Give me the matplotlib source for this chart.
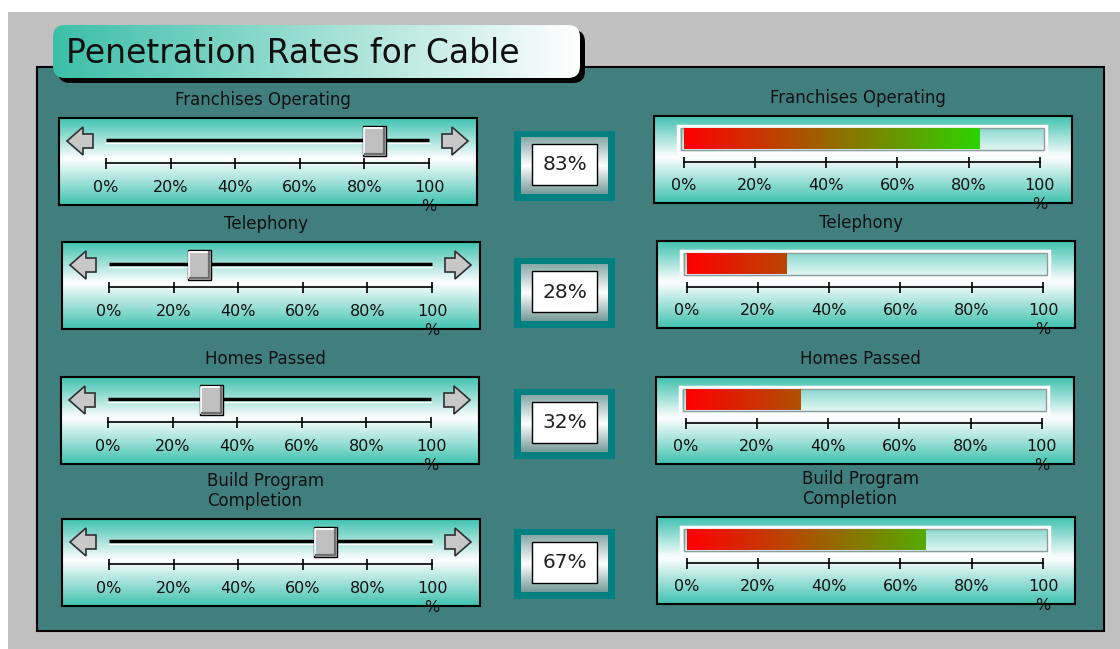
import matplotlib.pyplot as plt
import numpy as np
from matplotlib.patches import Rectangle, FancyBboxPatch, Polygon
from matplotlib.colors import LinearSegmentedColormap

# penetration rates, one row per measure
title = "Penetration Rates for Cable"
measures = ["Franchises Operating", "Telephony", "Homes Passed", "Build Program\nCompletion"]
rates = [83, 28, 32, 67]
tick_vals = [0, 20, 40, 60, 80, 100]
tick_labels = ["0%", "20%", "40%", "60%", "80%", "100\n%"]

W, H = 1120, 649
fig = plt.figure(figsize=(W / 100, H / 100), dpi=100)
fig.patch.set_facecolor("white")

# background axes in pixel units
bg = fig.add_axes([0, 0, 1, 1])
bg.set_xlim(0, W)
bg.set_ylim(H, 0)
bg.axis("off")

panel_cmap = LinearSegmentedColormap.from_list(
    "panel", [(0, "#3fc2b0"), (0.47, "#ffffff"), (1, "#3fc2b0")])
box_cmap = LinearSegmentedColormap.from_list(
    "box", [(0, "#86a8a6"), (0.5, "#ffffff"), (1, "#749a98")])
title_cmap = LinearSegmentedColormap.from_list("title", ["#3cbfa8", "#ffffff"])
bar_cmap = LinearSegmentedColormap.from_list("bar", ["#ff0000", "#00ff00"])


def grad_rect(ax, x0, y0, w, h, cmap, horizontal=False, z=2):
    g = np.linspace(0, 1, 256)
    arr = g[None, :] if horizontal else g[:, None]
    return ax.imshow(arr, cmap=cmap, extent=(x0, x0 + w, y0 + h, y0),
                     aspect="auto", interpolation="bilinear", zorder=z)


def px_axes(x0, y0, w, h):
    a = fig.add_axes([x0 / W, 1 - (y0 + h) / H, w / W, h / H])
    a.axis("off")
    return a


def arrow(x_tip, cy, direction):
    # block arrow: 16 px head, 10 px tail
    d = direction
    pts = [(x_tip, cy), (x_tip + d * 16, cy - 14), (x_tip + d * 16, cy - 7),
           (x_tip + d * 26, cy - 7), (x_tip + d * 26, cy + 7),
           (x_tip + d * 16, cy + 7), (x_tip + d * 16, cy + 14)]
    bg.add_patch(Polygon(pts, closed=True, fc="#c8c8c8", ec="#303030",
                         lw=1.2, zorder=4))


# outer frame and title
bg.add_patch(Rectangle((8, 12), W - 8, H - 12, fc="#c0c0c0", ec="none", zorder=0))
bg.add_patch(Rectangle((37, 67), 1067, 564, fc="#417f7f", ec="black", lw=1.5, zorder=1))

bg.add_patch(FancyBboxPatch((58, 30), 527, 53, boxstyle="round,pad=0,rounding_size=12",
                            fc="black", ec="none", zorder=2))
tbox = FancyBboxPatch((53, 25), 527, 53, boxstyle="round,pad=0,rounding_size=12",
                      fc="none", ec="none", zorder=3)
bg.add_patch(tbox)
im = grad_rect(bg, 53, 25, 527, 53, title_cmap, horizontal=True, z=3)
im.set_clip_path(tbox)
bg.text(66, 63, title, fontsize=23.8, va="baseline", ha="left", color="#101010", zorder=4)

PW, PH = 418, 87
left_x = [59, 62, 61, 62]
left_y = [118, 242, 377, 519]
right_x = [654, 657, 656, 657]
right_y = [116, 241, 377, 517]
box_y = [131, 258, 389, 529]

for i, (name, v) in enumerate(zip(measures, rates)):
    # ---- slider on the left ----
    lx, ly = left_x[i], left_y[i]
    grad_rect(bg, lx, ly, PW, PH, panel_cmap)
    bg.add_patch(Rectangle((lx, ly), PW, PH, fill=False, ec="black", lw=1.5, zorder=3))
    bg.text(lx + PW / 2 - 5, ly - 9, name, ha="center", va="bottom", fontsize=12,
            multialignment="left", linespacing=1.15, color="#101010")
    arrow(lx + 8, ly + 23, 1)
    arrow(lx + PW - 9, ly + 23, -1)

    s = 3.23
    ax = px_axes(lx, ly, PW, PH)
    ax.set_xlim(-47 / s, 100 + (PW - 370) / s)
    ax.set_ylim(PH, 0)
    ax.plot([0, 100], [22, 22], color="black", lw=2.5, solid_capstyle="butt")
    ax.plot([0, 100], [24.5, 24.5], color="white", lw=1)
    hw = 11.5 / s
    ax.add_patch(Rectangle((v - hw, 8), 2 * hw, 30, fc="#c0c0c0", ec="black", lw=1, zorder=5))
    ax.plot([v - hw + 1.2 / s, v - hw + 1.2 / s, v + hw - 2 / s], [36, 9.6, 9.6],
            color="white", lw=1.3, zorder=6)
    ax.plot([v - hw + 2 / s, v + hw - 1.6 / s, v + hw - 1.6 / s], [36.4, 36.4, 10],
            color="#707070", lw=1.6, zorder=6)
    ax.plot([0, 100], [45, 45], color="black", lw=1.2)
    ax.vlines(tick_vals, 40, 51, color="black", lw=1.2)
    for t, lab in zip(tick_vals, tick_labels):
        ax.text(t, 62, lab, ha="center", va="top", fontsize=11.5, linespacing=1.3,
                color="#101010")

    # ---- value box in the middle ----
    by = box_y[i]
    bg.add_patch(Rectangle((514, by), 101, 70, fc="#008080", ec="none", zorder=2))
    grad_rect(bg, 521, by + 6, 87, 57, box_cmap, z=3)
    bg.add_patch(Rectangle((532, by + 13), 65, 41, fc="white", ec="black", lw=1, zorder=4))
    bg.text(564.5, by + 34, f"{v}%", ha="center", va="center", fontsize=14.5,
            color="#202020", zorder=5)

    # ---- progress bar on the right ----
    rx, ry = right_x[i], right_y[i]
    grad_rect(bg, rx, ry, PW, PH, panel_cmap)
    bg.add_patch(Rectangle((rx, ry), PW, PH, fill=False, ec="black", lw=1.5, zorder=3))
    bg.text(rx + PW / 2 - 5, ry - 9, name, ha="center", va="bottom", fontsize=12,
            multialignment="left", linespacing=1.15, color="#101010")
    bg.add_patch(Rectangle((rx + 24, ry + 10), 368, 27, fc="white", alpha=0.15,
                           ec="none", zorder=3))
    bg.add_patch(Rectangle((rx + 24, ry + 10), 368, 27, fill=False, ec="white",
                           lw=2.5, zorder=4))
    bg.add_patch(Rectangle((rx + 26.5, ry + 12), 363, 22, fill=False, ec="#8c9c9c",
                           lw=1, zorder=4))

    s2 = 3.565
    ax2 = px_axes(rx, ry, PW, PH)
    ax2.imshow(np.linspace(0, v, 256)[None, :], cmap=bar_cmap, vmin=0, vmax=100,
               extent=(0, v, 33, 12.5), aspect="auto", interpolation="bilinear")
    ax2.set_xlim(-29.5 / s2, 100 + (PW - 386) / s2)
    ax2.set_ylim(PH, 0)
    ax2.plot([0, 100], [46, 46], color="black", lw=1.2)
    ax2.vlines(tick_vals, 40.5, 51.5, color="black", lw=1.2)
    for t, lab in zip(tick_vals, tick_labels):
        ax2.text(t, 62, lab, ha="center", va="top", fontsize=11.5, linespacing=1.3,
                 color="#101010")

bg.set_xlim(0, W)
bg.set_ylim(H, 0)
fig.savefig("out.png", dpi=100, facecolor=fig.get_facecolor())
